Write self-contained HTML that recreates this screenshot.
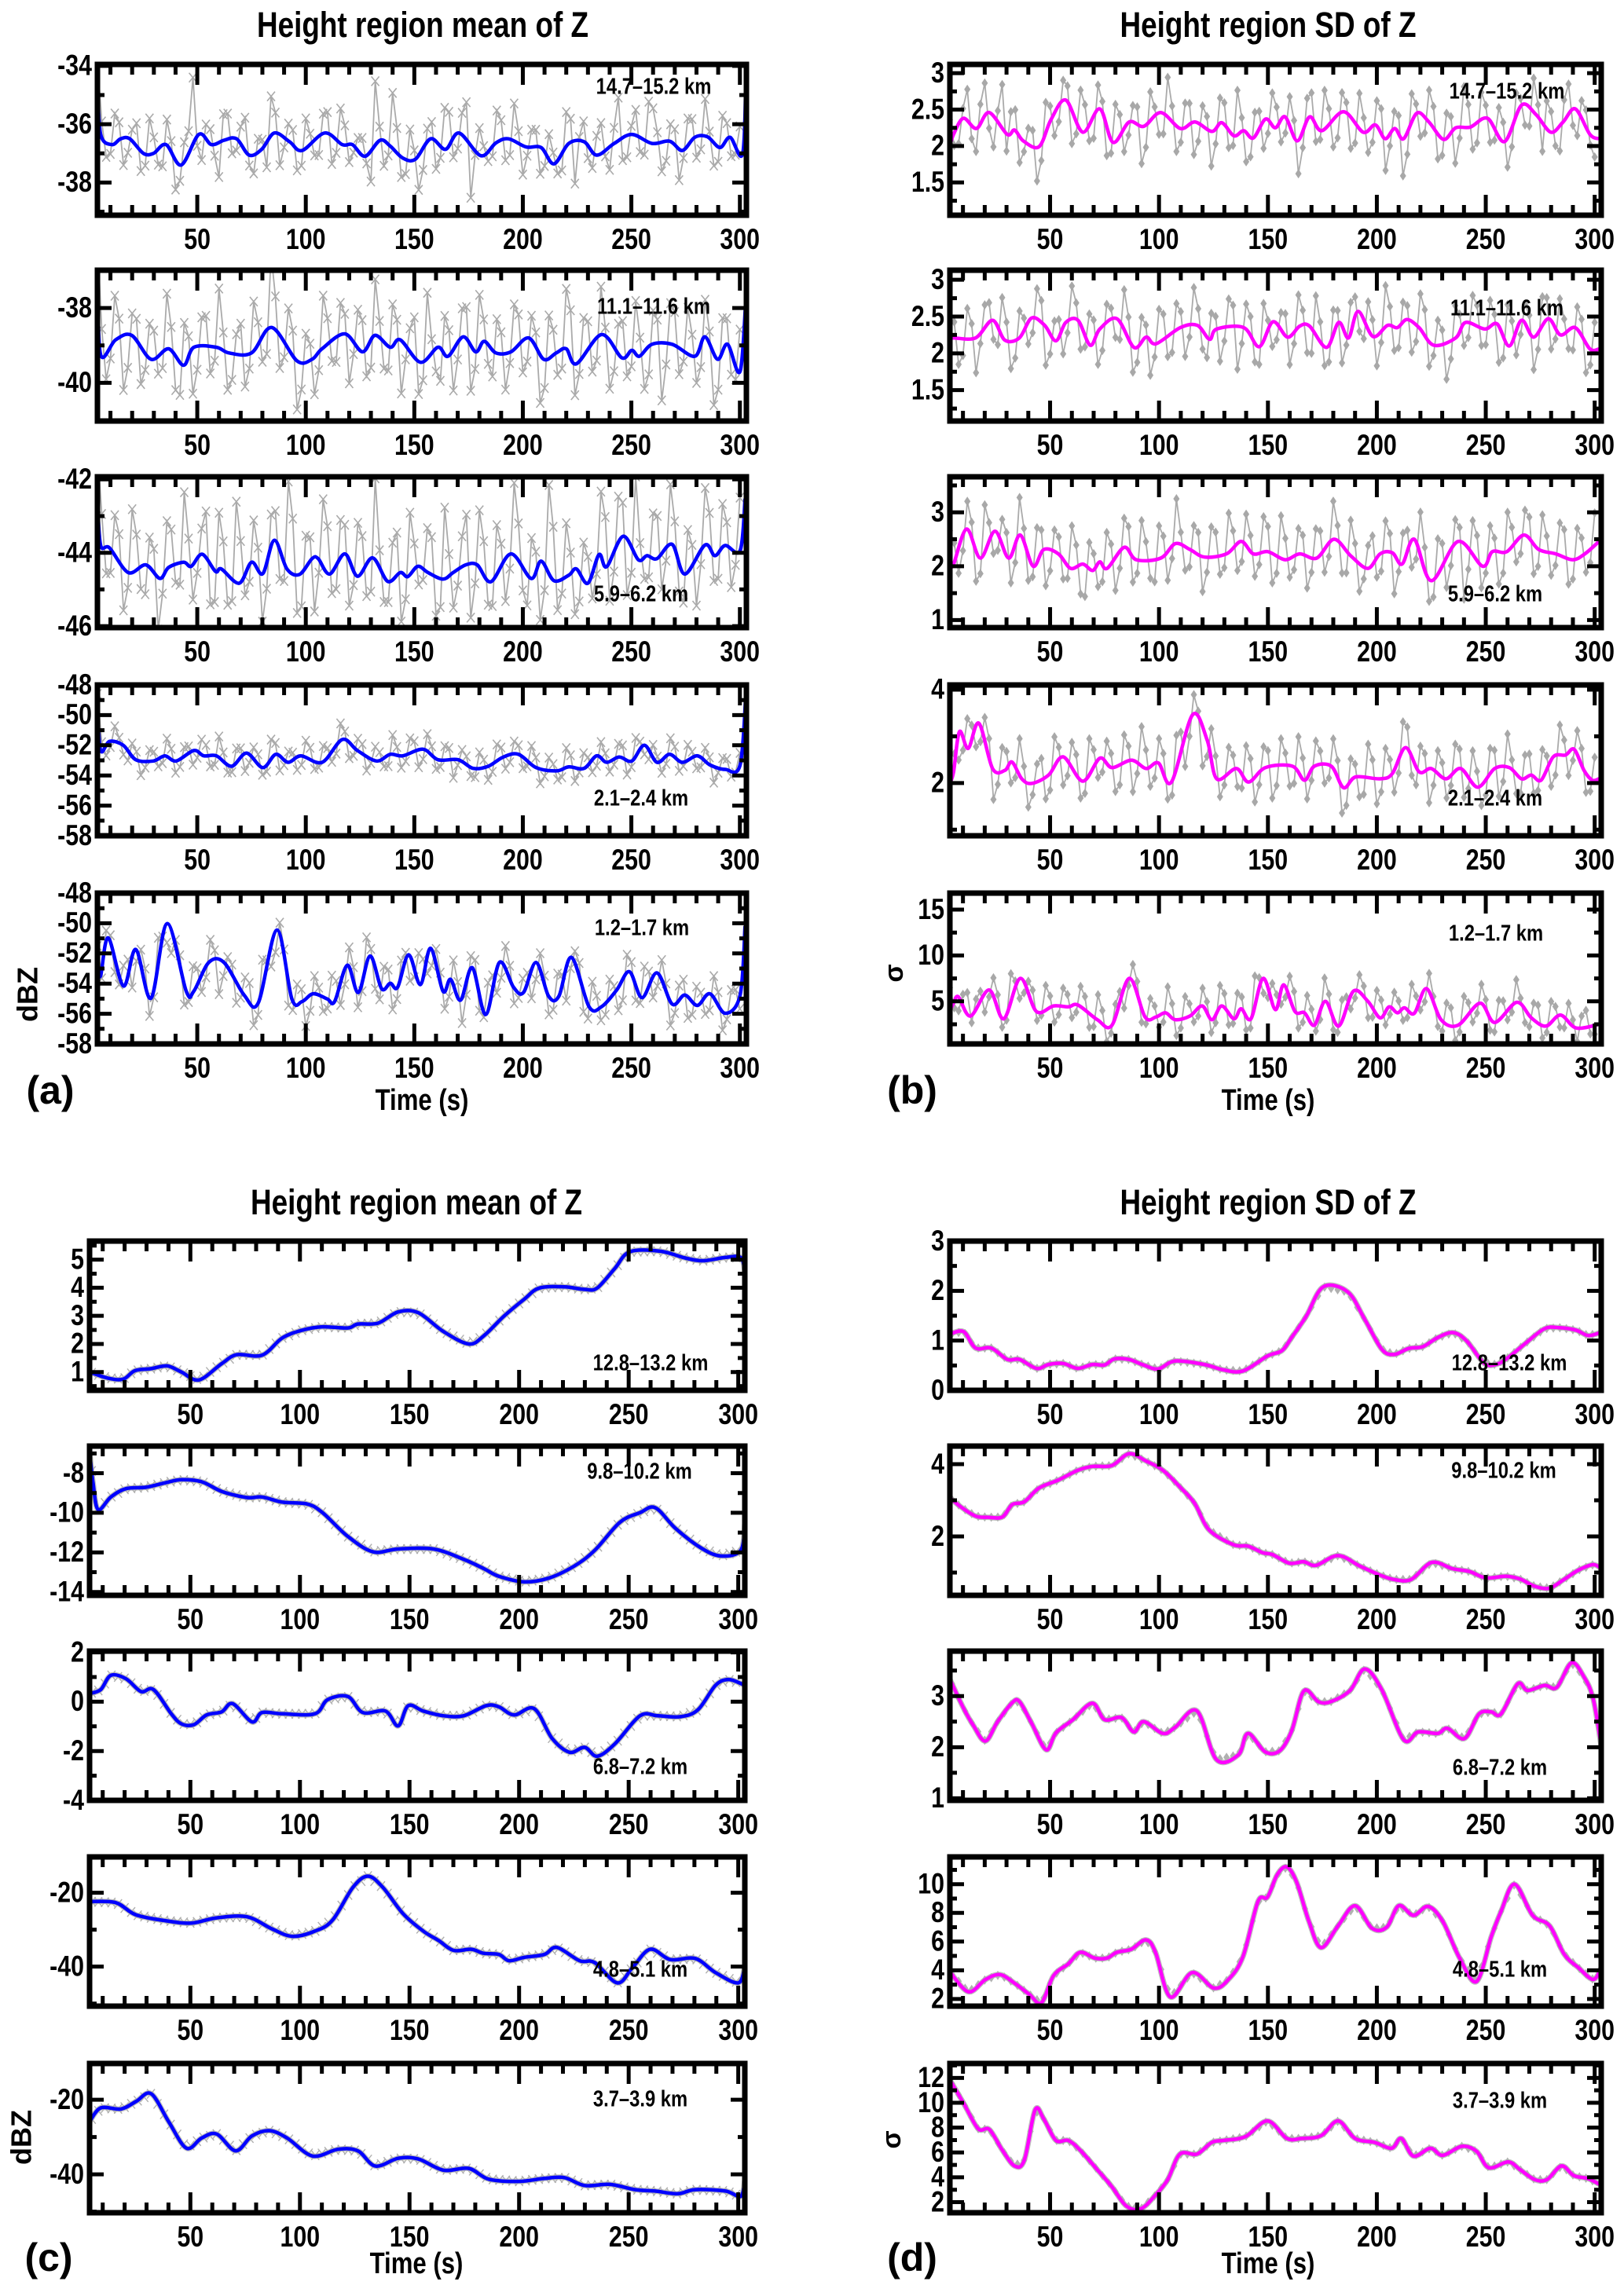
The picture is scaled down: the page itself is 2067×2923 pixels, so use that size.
<!DOCTYPE html>
<html><head><meta charset="utf-8"><title>Height region mean and SD of Z</title>
<style>
html,body{margin:0;padding:0;background:#fff;}
svg{display:block;}
text{font-family:"Liberation Sans Narrow","Liberation Sans",sans-serif;font-weight:bold;fill:#000;}
</style></head>
<body>
<svg id="fig" xmlns="http://www.w3.org/2000/svg" width="2067" height="2923" viewBox="0 0 2067 2923">
<rect x="0" y="0" width="2067" height="2923" fill="#fff"/>
<text x="538" y="35" font-size="45" text-anchor="middle" dominant-baseline="middle">Height region mean of Z</text>
<text x="1614" y="35" font-size="45" text-anchor="middle" dominant-baseline="middle">Height region SD of Z</text>
<text x="530" y="1534" font-size="45" text-anchor="middle" dominant-baseline="middle">Height region mean of Z</text>
<text x="1614" y="1534" font-size="45" text-anchor="middle" dominant-baseline="middle">Height region SD of Z</text>
<text x="537" y="1403" font-size="38" text-anchor="middle" dominant-baseline="middle">Time (s)</text>
<text x="1614" y="1403" font-size="38" text-anchor="middle" dominant-baseline="middle">Time (s)</text>
<text x="530" y="2884" font-size="38" text-anchor="middle" dominant-baseline="middle">Time (s)</text>
<text x="1614" y="2884" font-size="38" text-anchor="middle" dominant-baseline="middle">Time (s)</text>
<text x="64" y="1392" font-size="50" text-anchor="middle" dominant-baseline="middle" style="font-family:'Liberation Sans',sans-serif">(a)</text>
<text x="1161" y="1392" font-size="50" text-anchor="middle" dominant-baseline="middle" style="font-family:'Liberation Sans',sans-serif">(b)</text>
<text x="62" y="2878" font-size="50" text-anchor="middle" dominant-baseline="middle" style="font-family:'Liberation Sans',sans-serif">(c)</text>
<text x="1161" y="2878" font-size="50" text-anchor="middle" dominant-baseline="middle" style="font-family:'Liberation Sans',sans-serif">(d)</text>
<text transform="translate(38,1266) rotate(-90)" font-size="36" text-anchor="middle" dominant-baseline="middle" style="font-family:'Liberation Sans',sans-serif">dBZ</text>
<text transform="translate(30,2721) rotate(-90)" font-size="36" text-anchor="middle" dominant-baseline="middle" style="font-family:'Liberation Sans',sans-serif">dBZ</text>
<text transform="translate(1140,1239) rotate(-90)" font-size="34" text-anchor="middle" dominant-baseline="middle" style="font-family:'Liberation Sans',sans-serif">σ</text>
<text transform="translate(1137,2724) rotate(-90)" font-size="34" text-anchor="middle" dominant-baseline="middle" style="font-family:'Liberation Sans',sans-serif">σ</text>
</svg>
<script>
// ---------- data (smoothed series: times and values; raw residuals in panel noise units) ----------
const xTicks = [50,100,150,200,250,300];
const a1T=[4,5.5,10.6,14.7,18.9,25.2,29.8,35.6,42.6,50.7,56.5,62.3,68.1,73.9,79.7,85.5,92.5,98.3,108.7,116.8,121.5,127.3,134.2,138.9,144.7,150.5,157.5,164.4,170.6,180.6,187.6,193.4,201.5,208.4,214.3,221.2,228.2,234,242.1,250.2,259.5,267.6,273.5,279.2,285,290.8,295.5,301.3,302.8];
const a1V=[-34.6,-36.35,-36.7,-36.5,-36.5,-37.0,-37.0,-36.7,-37.4,-36.35,-36.7,-36.55,-36.5,-37.06,-36.86,-36.3,-36.6,-36.9,-36.3,-36.7,-36.7,-37.1,-36.55,-36.75,-37.16,-37.2,-36.5,-36.86,-36.3,-37.08,-36.64,-36.5,-36.78,-36.8,-37.36,-36.66,-36.6,-37.06,-36.66,-36.35,-36.66,-36.58,-36.9,-36.45,-36.43,-36.8,-36.45,-37.0,-34.1];
const a1R=[8,-6,10,-9,4,-7,12,-5,9,-11,6,23,-8,5,-12,9,-4,11,-7,3,14,-10,6,-8,10,-5,7,-9,12,-6,4,-3,22,-8,19,-7,10,-12,5,-9,14,-6,8,-18,9,-4,11,-7,13,-10,6,-9,8,-5,12,-14,7,-6,10,-8,15,-7,9,-5,12,-10,6,-11,9,-7,13,-8,10,-6,8];
const a2T=[4,5.5,12.4,19.8,28.7,36.8,43.7,48.4,58.8,64.6,75,84.3,95.9,102.9,107.5,117.9,126.1,131.9,138.9,143.5,152.8,160.9,165.5,172.5,178.3,182.2,187.6,194.5,202.7,209.6,215.4,220,224.7,236.3,245.6,250.2,253.7,259.5,268.8,279.2,283.9,289.7,294.3,300.1,302.9];
const a2V=[-37.2,-39.25,-38.85,-38.73,-39.37,-39.09,-39.53,-39.05,-39.05,-39.2,-39.2,-38.52,-39.41,-39.37,-39.09,-38.69,-39.17,-38.73,-39.05,-38.85,-39.45,-39.05,-39.29,-38.77,-39.17,-38.89,-39.2,-39.17,-38.8,-39.37,-39.2,-39.09,-39.49,-38.71,-39.33,-39.13,-39.29,-38.97,-38.97,-39.29,-38.77,-39.37,-38.97,-39.69,-37.6];
const a2R=[10,-8,12,-14,6,-10,9,-5,15,-9,11,-12,8,-7,16,-10,5,-9,13,-6,20,-8,11,-13,7,-10,14,-5,9,-12,10,-8,15,-7,11,-14,6,-9,17,-6,10,-11,8,-12,14,-5,9,-10,12,-8,7,-13,11,-6,16,-9,10,-7,13,-12,8,-6,14,-10,9,-15,11,-7,12,-8,10,-14,9,-6,11];
const a3T=[4,5.5,9.6,18.2,26.3,32.8,36.8,43.7,47.2,52.3,58.4,61.1,69.3,75,80.2,85.5,91.3,97.1,102.9,105.7,111,118,123.8,130.8,137.7,143.5,147,151.6,156.3,163.2,167.9,173.7,179,185.3,194.5,203.8,208.4,214.3,221.2,224.7,230,235.1,238.6,246.2,253.2,257.2,261.8,268.8,274.6,283.9,288.5,293.2,300.1,302.4];
const a3V=[-42.6,-43.8,-43.87,-44.54,-44.33,-44.7,-44.4,-44.26,-44.37,-44.04,-44.51,-44.44,-44.83,-44.26,-44.57,-43.66,-44.44,-44.59,-44.16,-44.16,-44.58,-44.03,-44.64,-44.14,-44.78,-44.54,-44.65,-44.37,-44.54,-44.72,-44.54,-44.33,-44.33,-44.79,-44.03,-44.7,-44.23,-44.76,-44.61,-44.44,-44.83,-44.05,-44.38,-43.55,-44.19,-44.08,-44.16,-43.77,-44.58,-43.79,-44.08,-43.8,-43.94,-42.53];
const a3R=[12,-6,9,-10,14,-5,7,-12,11,-4,16,-8,6,-9,13,-7,18,-5,10,-11,8,-6,20,-9,7,-12,15,-5,9,-10,12,-7,19,-6,8,-11,14,-4,10,-9,16,-8,7,-12,13,-6,11,-9,17,-5,9,-13,20,-7,12,-10,8,-6,15,-9,11,-12,18,-5,10,-8,14,-7,9,-11,13,-6,10,-9,12];
const a4T=[4,5.5,9.6,15.9,21.7,29.8,35.1,40.3,48.4,53,58.8,65.8,72.7,80.2,86.2,91.8,97.8,107.5,116.8,123.8,132.6,138.9,144.7,154,160.9,170.2,177.1,184.1,191,198,206.1,215.4,221.2,228.2,234,238.6,244.4,250.2,256,261.8,267.6,273.5,280.4,286.2,293.2,300.1,302.9];
const a4V=[-49.5,-52.35,-51.74,-52.0,-52.96,-53.04,-52.7,-53.04,-52.35,-52.7,-52.7,-53.39,-52.52,-53.48,-52.6,-53.13,-52.7,-53.13,-51.62,-52.35,-53.04,-52.6,-52.7,-52.26,-52.96,-52.96,-53.53,-53.39,-52.78,-52.6,-53.48,-53.7,-53.43,-53.53,-52.7,-53.13,-52.78,-53.04,-52.0,-53.13,-52.6,-53.13,-52.7,-53.3,-53.6,-53.3,-48.2];
const a4R=[9,-7,11,-6,8,-10,7,-5,12,-8,6,-9,10,-7,14,-6,9,-11,8,-5,13,-9,7,-8,11,-6,10,-7,12,-9,8,-10,9,-6,13,-8,10,-11,12,-7,9,-12,8,-6,10,-9,11,-8,9,-7,12,-10,8,-6,13,-9,10,-8,11,-7,9,-10,12,-6,8,-9,11,-7,10,-8,9,-11,7,-6,8];
const a5T=[4,5.5,9,16,21.7,28.7,36.1,44.9,48.4,55.3,62.3,71.6,78.1,86.7,93.6,98.3,103.4,109.9,113.3,119.1,124.2,129.6,134.9,138.9,142.3,147.4,152.8,157.5,163.2,166.7,171.3,176.7,182.9,189.2,195.7,200.3,206.1,211.9,216.6,222.4,230.5,236.3,243.3,249.1,254.9,261.8,268.8,274.6,280.4,286.2,293.2,300.1,302.4];
const a5V=[-53.0,-53.47,-50.97,-54.16,-51.74,-54.97,-50.02,-54.5,-54.5,-52.6,-52.6,-54.76,-55.28,-50.45,-55.02,-55.19,-54.67,-55.02,-55.19,-52.78,-54.59,-52.17,-54.33,-53.98,-54.24,-52.09,-54.07,-51.66,-54.5,-53.72,-55.1,-52.95,-56.05,-52.6,-54.24,-54.59,-52.6,-54.84,-54.84,-52.26,-55.53,-55.53,-54.41,-53.21,-54.93,-53.29,-55.36,-54.76,-55.45,-54.67,-55.97,-54.76,-50.19];
const a5R=[10,8,-6,9,-12,7,-10,12,-8,6,-9,11,-7,10,-14,5,-9,8,-11,12,-6,9,-10,7,-12,8,-6,11,-9,10,-7,13,-8,9,-11,7,-10,12,-6,8,-9,11,-12,7,-8,10,-9,12,-7,6,-11,9,-8,10,-12,7,-9,11,-6,8,-10,9,-7,12,-8,10,-11,6,-9,8,-7,10,-9,7,-6];
const b1T=[4,5.7,10.2,16.2,22,30.3,33.7,37.7,44.9,50.4,57.2,65,72.8,78.9,86.3,93,100.8,109.8,116.5,124.3,128.8,134.4,138.9,143.3,148.9,153.4,157.9,163.5,169.1,174.7,184.7,193.7,199.3,203.8,208.2,212.3,218.3,223.9,230.6,236.2,242.9,250.8,258.6,266.4,273.1,279.9,285.5,291.1,297.8,302];
const b1V=[2.0,2.16,2.38,2.24,2.46,2.16,2.22,2.07,1.99,2.36,2.63,2.19,2.51,2.05,2.33,2.27,2.46,2.24,2.33,2.2,2.32,2.14,2.21,2.11,2.37,2.25,2.4,2.07,2.4,2.21,2.47,2.19,2.29,2.1,2.24,2.1,2.45,2.33,2.09,2.25,2.26,2.38,2.06,2.56,2.43,2.19,2.33,2.51,2.16,2.1];
const b1R=[9,-6,11,-8,12,-10,15,7,-9,5,-12,10,-7,8,-11,13,-6,9,-10,12,-8,6,-13,10,-7,14,-9,8,-11,7,-12,9,-6,15,-10,8,-9,11,-7,10,-12,8,-6,13,-9,7,-10,12,-8,9,-11,6,-13,10,-7,11,-9,8,-12,14,-8,10,-7,9,-11,8,-6,12,-10,7,-9,11,-8,6,-7];
const b2T=[4,5.7,15.8,23.6,29.2,35.9,41.5,47.5,52.7,57.2,62.8,68.4,72.8,80.7,88.5,94.1,98.6,109.8,117.6,123.2,126.5,138.9,146,152.3,159,164.6,169.1,176.9,182.5,187,191.4,198.2,204.9,209.4,213.8,219.4,226.1,236.2,240.7,249.6,255.2,260.8,266.4,272,278.7,284.3,291.1,297.8,302];
const b2V=[2.2,2.21,2.21,2.45,2.18,2.21,2.48,2.38,2.17,2.42,2.45,2.11,2.33,2.47,2.08,2.22,2.13,2.35,2.38,2.19,2.33,2.35,2.09,2.43,2.22,2.37,2.37,2.08,2.42,2.21,2.57,2.23,2.38,2.35,2.46,2.35,2.11,2.21,2.42,2.33,2.4,2.1,2.45,2.22,2.47,2.25,2.35,2.06,2.06];
const b2R=[7,-9,10,-12,8,-6,13,-10,9,-7,11,-13,6,-9,12,-8,10,-11,7,-6,14,-9,8,-12,11,-7,9,-10,13,-6,8,-11,10,-14,9,-7,12,-8,6,-10,11,-9,13,-7,8,-12,10,-6,9,-11,14,-8,7,-10,12,-9,8,-13,11,-7,10,-6,9,-12,13,-8,7,-11,10,-9,12,-6,8,-10,9];
const b3T=[4,5.7,11.7,18,24.7,31,36.3,42.2,47.1,53.8,59.4,65,69.5,72.8,76.2,84,89.6,100.8,107.5,114.2,120.9,131,137.7,143.3,150,157.9,164.6,172.4,180.3,188.1,195.9,201.5,207.1,211.6,217.2,225,237.3,248.5,253,259.7,267.5,274.3,282.1,289.9,295.5,302];
const b3V=[2.0,2.04,2.69,2.15,2.65,2.15,2.58,2.0,2.31,2.23,1.96,2.04,1.92,2.08,1.96,2.35,2.12,2.15,2.42,2.31,2.17,2.23,2.46,2.23,2.27,2.12,2.23,2.15,2.5,2.19,1.96,2.23,2.25,2.04,2.5,1.73,2.46,2.0,2.27,2.27,2.58,2.31,2.23,2.12,2.23,2.46];
const b3R=[11,-7,9,-10,14,-6,8,-9,12,-8,10,-11,7,-6,13,-9,8,-7,11,-10,9,-8,12,-6,10,-9,14,-7,8,-11,9,-6,12,-8,10,-7,11,-9,13,-6,8,-10,9,-7,12,-8,11,-9,7,-6,10,-12,9,-7,13,-8,10,-9,8,-16,11,-7,9,-10,12,-6,8,-9,11,-7,10,-8,9,-6,10];
const b4T=[4,5.7,8.4,12.4,17.3,23.6,29.2,32.5,37,41.5,49.3,56,65,72.8,78.4,87.4,94.1,99.7,105.7,115.4,122.1,126.5,135.5,141.1,148.9,161.2,166.8,171.3,179.1,184.7,190.3,201.5,207.1,213.2,219.4,225,231.7,238.5,246.3,254.1,260.8,266.4,270.9,275.4,281,286.6,290.6,295.1,298.9,302];
const b4V=[2.0,2.24,3.1,2.74,3.28,2.31,2.27,2.45,2.09,1.99,2.17,2.56,2.04,2.53,2.33,2.49,2.31,2.43,2.02,3.46,2.92,2.09,2.31,2.02,2.33,2.36,2.06,2.36,2.36,1.9,2.13,2.09,2.2,2.76,2.24,2.31,2.09,2.31,1.91,2.31,2.33,2.09,2.17,2.06,2.56,2.6,2.72,2.27,2.06,2.09];
const b4R=[12,-8,10,-6,9,-11,8,-7,13,-9,6,-8,11,-10,9,-7,12,-6,8,-9,10,-11,14,-7,9,-8,11,-10,8,-12,10,-7,9,-6,12,-9,8,-11,10,-7,13,-8,9,-6,11,-10,8,-7,12,-9,10,-8,11,-6,9,-12,8,-7,10,-9,11,-8,9,-10,12,-7,8,-6,10,-9,11,-8,9,-7,8];
const b5T=[4,5.7,7.9,13.5,22,28.7,36.3,43.7,51.6,58.3,62.8,71.7,78.4,86.3,93.6,98.6,103,107.5,114.2,119.8,124.3,128.8,134.4,137.7,142.2,147.8,153.4,157.2,162.4,166.8,171.3,176.4,182.5,189.2,195.9,201.5,205.6,209.4,212.7,217.2,222.8,229.5,237.3,247.4,254.1,264.2,270.9,277.6,284.3,291.5,302];
const b5V=[4.0,4.8,5.5,3.4,6.25,3.1,7.5,3.9,4.5,4.4,4.6,3.0,2.4,7.5,3.3,3.3,3.75,3.0,3.4,4.5,3.0,4.5,3.1,4.2,3.1,7.5,4.1,6.8,3.9,3.75,2.4,5.0,2.3,6.1,5.0,3.2,4.4,3.75,4.3,3.7,6.4,3.0,2.4,4.8,2.7,4.9,3.2,2.3,3.5,2.1,2.5];
const b5R=[10,-6,8,4,-7,9,-5,12,-8,6,-4,10,-7,8,-5,9,-6,11,-8,5,-7,10,-6,8,-5,12,-7,9,-4,8,-6,10,-5,9,-7,13,-6,8,-5,10,-7,9,-4,11,-6,8,-5,9,-7,10,-6,8,-5,12,-4,9,-6,8,-7,10,-5,9,-6,8,-4,10,-5,7,-6,9,-5,8,-6,7,-4];
const c1T=[4,12.5,19.4,24.7,32.1,39.4,45.9,53.9,64.3,71.2,82.7,91.9,101.1,110.3,121.8,126.4,135.6,144.8,154,165.5,177,183.9,193.1,202.3,209.2,220.7,229.9,235.6,243.6,250.5,264.3,275.8,283.9,294.2,301.1,303];
const c1V=[1.0,0.78,0.75,1.05,1.12,1.22,1.0,0.72,1.3,1.62,1.6,2.21,2.49,2.61,2.57,2.71,2.74,3.14,3.11,2.44,2.0,2.29,2.99,3.59,3.99,4.03,3.94,3.99,4.68,5.28,5.3,5.06,4.96,5.08,5.08,4.6];
const c2T=[4,5.6,7.9,13.7,20.6,29.8,39,45.9,55.1,64.3,75.8,82.7,91.9,103.4,110.3,121.8,133.3,144.8,160.9,174.7,183.9,190.8,202.3,213.8,225.3,234.5,246,255.2,262.1,271.2,282.8,292,301.1,303];
const c2V=[-6.87,-8.5,-9.84,-9.2,-8.78,-8.71,-8.47,-8.33,-8.43,-8.92,-9.23,-9.2,-9.46,-9.56,-9.99,-11.19,-11.97,-11.83,-11.83,-12.35,-12.82,-13.21,-13.49,-13.29,-12.68,-11.9,-10.48,-9.99,-9.74,-10.77,-11.76,-12.18,-11.9,-10.55];
const c3T=[4,9.1,13.7,20.6,27.5,33.2,41.3,45.9,51.6,57.4,64.3,69.3,78.1,82.7,91.9,106.8,112.6,121.8,128.7,139,144.8,149.4,156.3,165.5,174.7,185,190.8,197.7,206.9,215,223,229.9,235.6,243.6,255.2,263.2,273.5,281.6,289.6,295.4,301.1,303];
const c3V=[0.33,0.49,1.07,0.93,0.41,0.49,-0.49,-0.9,-0.93,-0.54,-0.41,-0.08,-0.82,-0.44,-0.49,-0.49,0.08,0.21,-0.44,-0.38,-0.98,-0.16,-0.38,-0.57,-0.57,-0.16,-0.21,-0.54,-0.28,-1.48,-2.05,-1.85,-2.21,-1.72,-0.57,-0.57,-0.61,-0.33,0.66,0.9,0.74,0.65];
const c4T=[4,16,25.2,39,50.5,62,75.8,87.3,96.5,106.8,114.9,124.1,131,137.9,147.1,156.3,163.2,170.1,178.2,183.9,190.8,195.4,202.3,211.5,217.2,227.6,234.5,244.8,251.7,259.8,269,280.4,289.6,300,303];
const c4V=[-22.4,-22.7,-26.0,-27.6,-28.2,-26.8,-26.5,-29.8,-31.8,-30.4,-27.4,-18.6,-15.5,-18.6,-25.7,-30.4,-32.9,-35.6,-35.3,-36.4,-36.7,-38.4,-37.5,-36.7,-34.8,-38.4,-38.9,-44.4,-40.3,-35.3,-38.1,-37.8,-41.6,-44.4,-40];
const c5T=[4,9.1,18.3,25.2,32.1,40.1,48.2,55.1,62,70.7,78.1,86.1,94.2,105.7,117.2,126.4,134.4,144.8,154,165.5,177,186.2,200,211.5,220.7,229.9,241.4,252.9,262.1,272.4,280.4,294.2,301.1,303];
const c5V=[-25.9,-22.2,-22.5,-20.5,-18.4,-25.9,-33.0,-30.3,-29.2,-33.7,-29.7,-28.3,-30.3,-35.1,-33.3,-33.7,-37.8,-35.7,-35.9,-38.9,-38.4,-41.3,-41.9,-41.1,-40.9,-43.0,-42.7,-44.1,-44.5,-45.2,-44.1,-44.5,-45.9,-41.6];
const d1T=[4,10.3,15.8,23,30.4,36,43.8,49.3,56,62.7,69.4,75,79.5,86.2,92.9,99.6,107.4,120.8,129.7,138.6,149.8,156.5,161,167.6,175.4,186.6,194.4,202.2,207.8,214.5,221.2,227.9,235,241.3,249.1,254.7,260.3,268.1,277,283.7,291.5,297.1,303];
const d1V=[1.13,1.18,0.85,0.85,0.62,0.62,0.44,0.52,0.54,0.44,0.52,0.51,0.63,0.62,0.51,0.43,0.59,0.52,0.41,0.39,0.69,0.8,1.07,1.49,2.08,1.98,1.43,0.83,0.72,0.84,0.88,1.06,1.16,0.99,0.55,0.52,0.66,0.94,1.24,1.26,1.21,1.1,1.17];
const d2T=[4,9.2,15.9,21.4,28.1,32.6,38.2,44.9,53.8,62.7,69.4,78.3,86.2,94,101.8,109.6,116.3,123,134.2,140.9,147.6,152,159.8,166.5,172.1,182.2,192.2,201.1,207.8,215.7,225.2,234.6,242.4,250.2,259.2,265.8,272.5,279.3,285.9,292.6,299.3,303];
const d2V=[3.07,2.81,2.56,2.53,2.54,2.88,2.96,3.34,3.56,3.83,3.94,3.96,4.29,4.09,3.83,3.37,2.92,2.18,1.77,1.73,1.55,1.5,1.26,1.3,1.2,1.47,1.18,0.94,0.81,0.81,1.28,1.11,1.03,0.85,0.9,0.82,0.62,0.57,0.81,1.07,1.22,1.11];
const d3T=[4,10.3,14.7,20.3,25.9,32.6,36,41.5,48.2,52.7,60.5,69.4,75,82.8,88.4,92.9,101.8,107.4,117.4,126.3,136.4,140.8,148.7,155.4,160.9,166.5,173.2,178.8,187.7,194.4,202.2,212.3,219,227.9,232.4,240.2,246.9,252.5,257,264.7,269.2,277,282.6,289.3,294.9,299.3,303];
const d3V=[3.33,2.76,2.43,2.12,2.5,2.87,2.89,2.47,1.95,2.28,2.54,2.86,2.54,2.58,2.3,2.5,2.27,2.39,2.71,1.76,1.85,2.27,1.91,1.93,2.32,3.1,2.89,2.89,3.11,3.53,3.13,2.15,2.3,2.27,2.37,2.17,2.65,2.69,2.65,3.24,3.11,3.21,3.17,3.65,3.39,2.95,2.02];
const d4T=[4,12.5,20.3,27,33.7,40.4,46,51.6,58.3,63.8,70.5,76.1,80.6,87.3,94,98.4,105.2,115.2,125.2,131.9,138.6,145.4,149.8,154.3,158.7,163.2,168.8,174.4,182.2,190,197.8,204.5,210.1,216.8,223.5,230.2,238,245.8,252.5,257,263.2,271.5,279.3,286,292.6,299.3,303];
const d4V=[3.9,2.5,3.35,3.7,3.1,2.33,1.73,3.63,4.44,5.25,4.85,4.85,5.25,5.47,6.12,5.25,2.14,3.84,2.76,3.36,4.98,8.78,9.1,10.67,11.2,10.13,7.42,5.58,7.1,8.5,6.93,7.0,8.5,7.83,8.45,7.42,4.85,3.22,6.34,8.1,10.0,7.83,7.1,5.12,4.17,3.36,4.17];
const d5T=[4,10.3,17,22.1,28.1,33.7,38.2,43.1,47.1,52.7,58.3,63.8,71.7,78.3,85,91.7,98.4,104,109.6,117.4,124.2,129.7,139.7,149.8,158.7,165.5,174.4,182.2,190,199,206.8,211.2,216.8,224.6,230.2,239.1,245.8,251.4,260.3,265.8,272.5,278.1,284.8,290.4,297.1,303];
const d5V=[11.84,9.96,7.91,7.85,6.18,4.92,5.4,9.42,8.7,6.97,6.97,6.18,4.61,3.26,1.69,1.47,2.57,3.82,5.87,5.87,6.81,6.97,7.28,8.54,7.13,7.13,7.35,8.54,7.13,6.81,6.34,7.13,5.71,6.34,5.77,6.5,6.09,4.77,5.24,4.61,3.82,3.82,4.92,4.14,3.89,3.35];
// y tick labels per panel
const a1Ticks=[-34,-36,-38], a2Ticks=[-38,-40], a3Ticks=[-42,-44,-46], a4Ticks=[-48,-50,-52,-54,-56,-58], a5Ticks=[-48,-50,-52,-54,-56,-58];
const b1Ticks=[3,2.5,2,1.5], b2Ticks=[3,2.5,2,1.5], b3Ticks=[3,2,1], b4Ticks=[4,2], b5Ticks=[15,10,5];
const c1Ticks=[5,4,3,2,1], c2Ticks=[-8,-10,-12,-14], c3Ticks=[2,0,-2,-4], c4Ticks=[-20,-40], c5Ticks=[-20,-40];
const d1Ticks=[3,2,1,0], d2Ticks=[4,2], d3Ticks=[3,2,1], d4Ticks=[10,8,6,4,2], d5Ticks=[12,10,8,6,4,2];

// ---------- layout ----------
const NS="http://www.w3.org/2000/svg";
const svg=document.getElementById('fig');
const XMIN=4, XMAX=303;
const COLX={a:[124,950],b:[1209,2038],c:[114,948],d:[1209,2038]};
const TOPS_UP=[82,344,607,872,1137], TOPS_DN=[1580,1841,2102,2364,2627];
const panels=[
 {id:'a1',col:'a',row:0,ylim:[-39.12,-33.95],ticks:a1Ticks,T:a1T,V:a1V,R:a1R,unit:0.1,label:'14.7–15.2 km',lx:832,ly:112},
 {id:'a2',col:'a',row:1,ylim:[-41.02,-36.99],ticks:a2Ticks,T:a2T,V:a2V,R:a2R,unit:0.1,label:'11.1–11.6 km',lx:832,ly:392},
 {id:'a3',col:'a',row:2,ylim:[-46.04,-41.93],ticks:a3Ticks,T:a3T,V:a3V,R:a3R,unit:0.12,label:'5.9–6.2 km',lx:816,ly:758},
 {id:'a4',col:'a',row:3,ylim:[-58,-48],ticks:a4Ticks,T:a4T,V:a4V,R:a4R,unit:0.1,label:'2.1–2.4 km',lx:816,ly:1018},
 {id:'a5',col:'a',row:4,ylim:[-58,-48],ticks:a5Ticks,T:a5T,V:a5V,R:a5R,unit:0.15,label:'1.2–1.7 km',lx:817,ly:1183},
 {id:'b1',col:'b',row:0,ylim:[1.05,3.12],ticks:b1Ticks,T:b1T,V:b1V,R:b1R,unit:0.04,label:'14.7–15.2 km',lx:1918,ly:118},
 {id:'b2',col:'b',row:1,ylim:[1.08,3.13],ticks:b2Ticks,T:b2T,V:b2V,R:b2R,unit:0.04,label:'11.1–11.6 km',lx:1918,ly:394},
 {id:'b3',col:'b',row:2,ylim:[0.86,3.66],ticks:b3Ticks,T:b3T,V:b3V,R:b3R,unit:0.06,label:'5.9–6.2 km',lx:1903,ly:758},
 {id:'b4',col:'b',row:3,ylim:[0.87,4.1],ticks:b4Ticks,T:b4T,V:b4V,R:b4R,unit:0.06,label:'2.1–2.4 km',lx:1903,ly:1018},
 {id:'b5',col:'b',row:4,ylim:[0.36,16.8],ticks:b5Ticks,T:b5T,V:b5V,R:b5R,unit:0.25,label:'1.2–1.7 km',lx:1904,ly:1190},
 {id:'c1',col:'c',row:0,ylim:[0.35,5.66],ticks:c1Ticks,T:c1T,V:c1V,label:'12.8–13.2 km',lx:828,ly:1737},
 {id:'c2',col:'c',row:1,ylim:[-14.17,-6.63],ticks:c2Ticks,T:c2T,V:c2V,label:'9.8–10.2 km',lx:814,ly:1875},
 {id:'c3',col:'c',row:2,ylim:[-4,2.05],ticks:c3Ticks,T:c3T,V:c3V,label:'6.8–7.2 km',lx:815,ly:2251},
 {id:'c4',col:'c',row:3,ylim:[-50.7,-10.3],ticks:c4Ticks,T:c4T,V:c4V,label:'4.8–5.1 km',lx:815,ly:2509},
 {id:'c5',col:'c',row:4,ylim:[-50.3,-10.3],ticks:c5Ticks,T:c5T,V:c5V,label:'3.7–3.9 km',lx:815,ly:2674},
 {id:'d1',col:'d',row:0,ylim:[0,3],ticks:d1Ticks,T:d1T,V:d1V,label:'12.8–13.2 km',lx:1921,ly:1737},
 {id:'d2',col:'d',row:1,ylim:[0.37,4.5],ticks:d2Ticks,T:d2T,V:d2V,label:'9.8–10.2 km',lx:1914,ly:1874},
 {id:'d3',col:'d',row:2,ylim:[0.96,3.88],ticks:d3Ticks,T:d3T,V:d3V,label:'6.8–7.2 km',lx:1909,ly:2252},
 {id:'d4',col:'d',row:3,ylim:[1.5,11.9],ticks:d4Ticks,T:d4T,V:d4V,label:'4.8–5.1 km',lx:1909,ly:2509},
 {id:'d5',col:'d',row:4,ylim:[1.15,13.16],ticks:d5Ticks,T:d5T,V:d5V,label:'3.7–3.9 km',lx:1909,ly:2676}
];

function mk(tag,attrs,parent){const e=document.createElementNS(NS,tag);for(const k in attrs)e.setAttribute(k,attrs[k]);(parent||svg).appendChild(e);return e;}
function interp(T,V,t){if(t<=T[0])return V[0];for(let i=1;i<T.length;i++){if(t<=T[i]){const f=(t-T[i-1])/(T[i]-T[i-1]);return V[i-1]+f*(V[i]-V[i-1]);}}return V[V.length-1];}
function crPath(pts){let d='M'+pts[0][0].toFixed(1)+','+pts[0][1].toFixed(1);for(let i=0;i<pts.length-1;i++){const p0=pts[i-1]||pts[i],p1=pts[i],p2=pts[i+1],p3=pts[i+2]||p2;const c1x=p1[0]+(p2[0]-p0[0])/6,c1y=p1[1]+(p2[1]-p0[1])/6,c2x=p2[0]-(p3[0]-p1[0])/6,c2y=p2[1]-(p3[1]-p1[1])/6;d+='C'+c1x.toFixed(1)+','+c1y.toFixed(1)+' '+c2x.toFixed(1)+','+c2y.toFixed(1)+' '+p2[0].toFixed(1)+','+p2[1].toFixed(1);}return d;}

panels.forEach(p=>{
  const top=(p.col==='a'||p.col==='b'?TOPS_UP:TOPS_DN)[p.row];
  const h=(p.col==='a'||p.col==='b')?192:190;
  const bottom=top+h;
  const [x0,x1]=COLX[p.col];
  const sx=t=>x0+(t-XMIN)/(XMAX-XMIN)*(x1-x0);
  const sy=v=>bottom-(v-p.ylim[0])/(p.ylim[1]-p.ylim[0])*h;
  const isMean=(p.col==='a'||p.col==='c');
  const color=isMean?'#0000ff':'#ff00ff';
  const g=mk('g',{});
  
  
  const cp=mk('clipPath',{id:'clip-'+p.id},g);
  mk('rect',{x:x0,y:top,width:x1-x0,height:h},cp);
  const dg=mk('g',{'clip-path':'url(#clip-'+p.id+')'},g);
  if(p.R){
    const raw=[];
    const n=p.R.length;
    for(let k=0;k<n;k++){
      const t=4+4*k; if(t>301)break;
      raw.push([sx(t),sy(interp(p.T,p.V,t)+p.R[k]*p.unit)]);
      const t2=t+2; if(t2<=301){raw.push([sx(t2),sy(interp(p.T,p.V,t2)+p.R[n-1-k]*p.unit*0.6)]);}
    }
    const rl=mk('polyline',{points:raw.map(q=>q[0].toFixed(1)+','+q[1].toFixed(1)).join(' '),fill:'none',stroke:'#aaaaaa','stroke-width':1.8},dg);
    
    
    raw.forEach(q=>{
      let m;
      if(isMean){m=mk('path',{d:'M'+(q[0]-5)+','+(q[1]-6)+'L'+(q[0]+5)+','+(q[1]+6)+'M'+(q[0]+5)+','+(q[1]-6)+'L'+(q[0]-5)+','+(q[1]+6),stroke:'#aaaaaa','stroke-width':1.6,fill:'none'},dg);}
      else{m=mk('path',{d:'M'+q[0]+','+(q[1]-6)+'L'+(q[0]+4)+','+q[1]+'L'+q[0]+','+(q[1]+6)+'L'+(q[0]-4)+','+q[1]+'Z',fill:'#a8a8a8'},dg);}
      
      
    });
  } else {
    const pts=p.T.map((t,i)=>[sx(t),sy(p.V[i])]);
    const halo=mk('path',{d:crPath(pts),fill:'none',stroke:'#c0c0c0','stroke-width':7,'stroke-linejoin':'round'},dg);
    
    
    for(let t=5;t<=301;t+=3){
      const px=sx(t),py=sy(interp(p.T,p.V,t));
      let m;
      if(isMean){m=mk('path',{d:'M'+(px-5)+','+(py-6)+'L'+(px+5)+','+(py+6)+'M'+(px+5)+','+(py-6)+'L'+(px-5)+','+(py+6),stroke:'#b0b0b0','stroke-width':1.4,fill:'none'},dg);}
      else{m=mk('path',{d:'M'+px+','+(py-6)+'L'+(px+4)+','+py+'L'+px+','+(py+6)+'L'+(px-4)+','+py+'Z',fill:'#b0b0b0'},dg);}
      
      
    }
  }
  const sp=mk('path',{d:crPath(p.T.map((t,i)=>[sx(t),sy(p.V[i])])),fill:'none',stroke:color,'stroke-width':4.5,'stroke-linejoin':'round'},dg);
  
  
  let td='';
  for(let t=10;t<=300;t+=10){const x=sx(t);const L=(t%50===0)?26:13;td+='M'+x+','+bottom+'v'+(-L)+'M'+x+','+top+'v'+L;}
  const step=p.ticks.length>1?Math.abs(p.ticks[0]-p.ticks[1]):1;
  const lo=Math.min(...p.ticks), hi=Math.max(...p.ticks);
  for(let v=lo-step*3;v<=hi+step*3+1e-9;v+=step/2){
    if(v<p.ylim[0]-1e-9||v>p.ylim[1]+1e-9)continue;
    const y=sy(v);const major=p.ticks.some(q=>Math.abs(q-v)<1e-6);const L=major?18:9;
    td+='M'+x0+','+y+'h'+L+'M'+x1+','+y+'h'+(-L);
  }
  const tk=mk('path',{d:td,stroke:'#000','stroke-width':5,fill:'none'},g);
  
  
  const fr=mk('rect',{x:x0,y:top,width:x1-x0,height:h,fill:'none',stroke:'#000','stroke-width':7},g);
  
  
  xTicks.forEach(t=>{
    const tx=mk('text',{x:sx(t),y:bottom+33,'font-size':37,'text-anchor':'middle','dominant-baseline':'middle'},g);
    tx.textContent=String(t);
    
    
  });
  p.ticks.forEach(v=>{
    const ty=mk('text',{x:x0-7,y:sy(v)+2,'font-size':37,'text-anchor':'end','dominant-baseline':'middle'},g);
    ty.textContent=String(v);
    
    
  });
  const lb=mk('text',{x:p.lx,y:p.ly,'font-size':29,'text-anchor':'middle','dominant-baseline':'middle'},g);
  lb.textContent=p.label;
  
  
});
// condense bold labels (narrow font look)
document.querySelectorAll('svg text').forEach(t=>{
  if(t.hasAttribute('transform')||t.hasAttribute('style'))return;
  const x=t.getAttribute('x'),y=t.getAttribute('y');
  t.setAttribute('x',0);t.setAttribute('y',0);
  t.setAttribute('transform','translate('+x+','+y+') scale(0.82,1)');
});
</script>
</body></html>
